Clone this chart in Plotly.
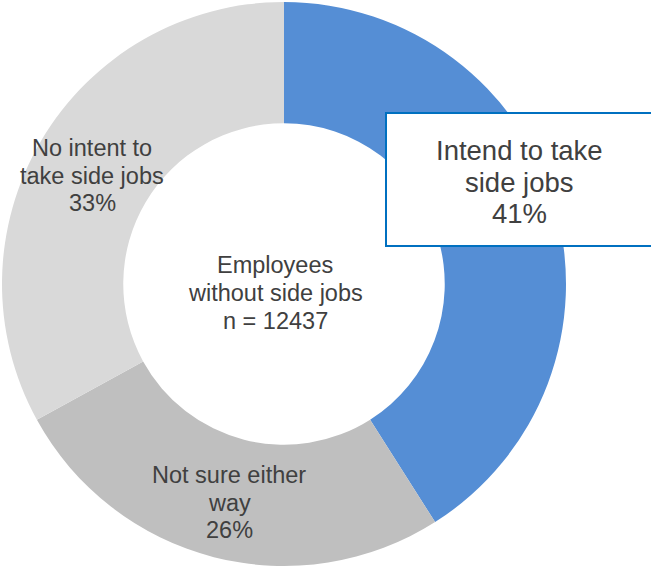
import plotly.graph_objects as go

# Survey breakdown of employees without side jobs
categories = ["Intend to take side jobs", "Not sure either way", "No intent to take side jobs"]
shares = [41, 26, 33]
colors = ["#558ED5", "#BFBFBF", "#D9D9D9"]
sample_size = 12437

W, H = 651, 568
TEXT = "#404040"
FONT = "Liberation Sans, Arial, sans-serif"

fig = go.Figure(
    go.Pie(
        labels=categories,
        values=shares,
        marker=dict(colors=colors, line=dict(width=0)),
        hole=0.57,
        sort=False,
        direction="clockwise",
        rotation=0,
        textinfo="none",
        hoverinfo="label+percent",
        domain=dict(x=[2 / W, 566 / W], y=[1 - 566 / H, 1 - 2 / H]),
        showlegend=False,
    )
)


def px(x):
    return x / W


def py(y):
    return 1 - y / H


def add_lines(lines, cx, ys, size):
    for text, y in zip(lines, ys):
        fig.add_annotation(
            x=px(cx), y=py(y), xref="paper", yref="paper",
            text=text, showarrow=False, xanchor="center", yanchor="middle",
            font=dict(family=FONT, size=size, color=TEXT),
        )


# Callout box for the highlighted segment
fig.add_shape(
    type="rect", xref="paper", yref="paper",
    x0=px(386), x1=px(660), y0=py(246), y1=py(113),
    line=dict(color="#0070C0", width=2), fillcolor="white", layer="above",
)

add_lines(["Intend to take", "side jobs", f"{shares[0]}%"], 519, [150, 182, 213], 27.5)
add_lines(["Not sure either", "way", f"{shares[1]}%"], 229, [475, 503, 530], 23.5)
add_lines(["No intent to", "take side jobs", f"{shares[2]}%"], 92, [148, 176, 203], 23.5)
add_lines(["Employees", "without side jobs", f"n = {sample_size}"], 275, [265, 293, 321], 23.5)

fig.update_layout(
    width=W, height=H,
    margin=dict(l=0, r=0, t=0, b=0),
    paper_bgcolor="white", plot_bgcolor="white",
)

fig.write_html("out.html")
